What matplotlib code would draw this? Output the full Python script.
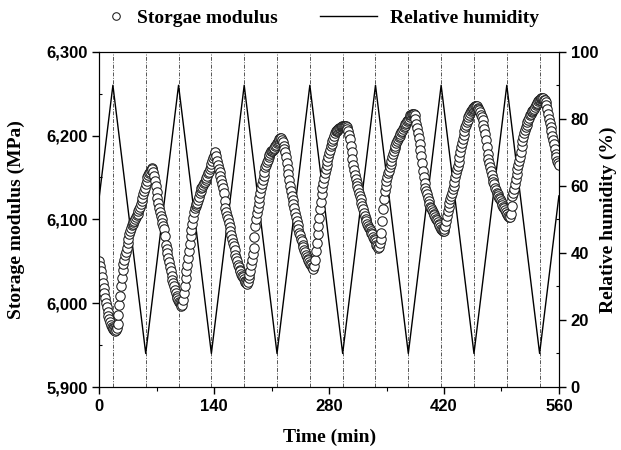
import numpy as np
import matplotlib.pyplot as plt
from matplotlib.ticker import FuncFormatter, MultipleLocator

# storage modulus (MPa), read at ~2 min steps from 0 to 560 min
modulus = [
    6050, 6038, 6024, 6012, 6000, 5990, 5981, 5974, 5970, 5968,
    5968, 5975, 5998, 6020, 6040, 6052, 6061, 6072, 6082, 6090,
    6095, 6098, 6103, 6107, 6112, 6118, 6126, 6134, 6142, 6150,
    6155, 6159, 6160, 6152, 6140, 6126, 6114, 6104, 6096, 6088,
    6070, 6060, 6049, 6038, 6028, 6020, 6012, 6006, 6002, 5999,
    5998, 6012, 6030, 6046, 6062, 6080, 6094, 6109, 6116, 6120,
    6127, 6134, 6139, 6143, 6147, 6152, 6157, 6163, 6170, 6176,
    6180, 6170, 6160, 6152, 6142, 6132, 6114, 6104, 6096, 6086,
    6076, 6068, 6058, 6050, 6043, 6038, 6033, 6029, 6025, 6023,
    6030, 6038, 6052, 6066, 6092, 6108, 6120, 6132, 6142, 6152,
    6162, 6168, 6174, 6179, 6182, 6184, 6187, 6191, 6194, 6197,
    6195, 6188, 6180, 6167, 6154, 6140, 6128, 6118, 6108, 6098,
    6088, 6081, 6074, 6067, 6061, 6055, 6051, 6047, 6043, 6041,
    6052, 6072, 6092, 6112, 6130, 6143, 6155, 6165, 6174, 6183,
    6190, 6196, 6203, 6206, 6208, 6209, 6210, 6211, 6211, 6210,
    6205, 6196, 6180, 6165, 6153, 6143, 6136, 6128, 6120, 6112,
    6104, 6098, 6092, 6088, 6084, 6079, 6075, 6070, 6066, 6072,
    6084, 6112, 6134, 6146, 6155, 6162, 6170, 6178, 6185, 6191,
    6196, 6200, 6204, 6208, 6212, 6215, 6218, 6222, 6225, 6226,
    6224, 6214, 6203, 6190, 6176, 6158, 6143, 6134, 6126, 6118,
    6113, 6109, 6105, 6101, 6097, 6093, 6089, 6086, 6088, 6098,
    6110, 6120, 6128, 6136, 6145, 6155, 6164, 6174, 6186, 6196,
    6206, 6213, 6219, 6225, 6229, 6232, 6234, 6235, 6233, 6230,
    6225, 6218, 6208, 6195, 6178, 6167, 6158, 6148, 6142, 6135,
    6130, 6126, 6122, 6117, 6113, 6109, 6106, 6103, 6106, 6128,
    6136, 6148, 6160, 6170, 6180, 6193, 6203, 6210, 6216, 6221,
    6226, 6229, 6232, 6236, 6239, 6242, 6244, 6245, 6243, 6240,
    6232, 6220, 6210, 6200, 6190, 6178, 6170, 6165,
]
# readings taken half-way between the samples above
modulus_mid = [
    6044, 6031, 6018, 6006, 5995, 5985, 5977, 5972, 5969, 5967,
    5970, 5986, 6009, 6030, 6047, 6057, 6066, 6077, 6086, 6093,
    6097, 6100, 6105, 6110, 6115, 6122, 6130, 6138, 6146, 6153,
    6157, 6161, 6157, 6146, 6133, 6120, 6109, 6100, 6092, 6080,
    6065, 6054, 6043, 6033, 6024, 6016, 6009, 6004, 6000, 5997,
    6004, 6021, 6038, 6054, 6071, 6087, 6102, 6113, 6118, 6123,
    6131, 6137, 6141, 6145, 6149, 6155, 6160, 6166, 6173, 6179,
    6176, 6165, 6156, 6147, 6137, 6122, 6109, 6100, 6091, 6081,
    6072, 6063, 6054, 6046, 6040, 6035, 6031, 6027, 6024, 6025,
    6034, 6045, 6059, 6079, 6100, 6114, 6126, 6137, 6147, 6157,
    6165, 6171, 6177, 6181, 6183, 6185, 6189, 6192, 6196, 6197,
    6192, 6184, 6174, 6160, 6147, 6134, 6123, 6113, 6103, 6093,
    6084, 6077, 6070, 6064, 6058, 6053, 6049, 6045, 6042, 6044,
    6062, 6082, 6102, 6121, 6137, 6149, 6160, 6170, 6179, 6187,
    6193, 6200, 6205, 6207, 6209, 6210, 6211, 6212, 6211, 6208,
    6201, 6188, 6172, 6159, 6148, 6140, 6132, 6124, 6116, 6108,
    6101, 6095, 6090, 6086, 6082, 6077, 6073, 6068, 6067, 6077,
    6098, 6124, 6140, 6151, 6158, 6166, 6174, 6182, 6188, 6194,
    6198, 6202, 6206, 6210, 6214, 6217, 6220, 6224, 6226, 6226,
    6220, 6209, 6197, 6183, 6167, 6150, 6138, 6130, 6122, 6115,
    6111, 6107, 6103, 6099, 6095, 6091, 6087, 6086, 6092, 6104,
    6115, 6124, 6132, 6140, 6150, 6160, 6169, 6180, 6191, 6201,
    6210, 6216, 6222, 6227, 6231, 6233, 6235, 6235, 6232, 6228,
    6222, 6213, 6202, 6186, 6172, 6162, 6153, 6145, 6138, 6132,
    6128, 6124, 6120, 6115, 6111, 6107, 6104, 6103, 6116, 6132,
    6142, 6154, 6165, 6175, 6187, 6198, 6207, 6213, 6219, 6224,
    6228, 6231, 6234, 6238, 6241, 6243, 6245, 6245, 6242, 6236,
    6226, 6215, 6205, 6195, 6184, 6174, 6167,
]
step = 560 / (len(modulus) - 1)
time_mod = np.linspace(0, 560, len(modulus))
time_mid = np.linspace(step / 2, 560 - step / 2, len(modulus_mid))

# relative humidity program (%)
rh_time = [0, 16.5, 56.5, 96.5, 136.5, 176.5, 216.5, 256.5, 296.5,
           336.5, 376.5, 416.5, 456.5, 496.5, 536.5, 560]
rh_val = [57, 90, 10, 90, 10, 90, 10, 90, 10, 90, 10, 90, 10, 90, 10, 57]

# switch times (dash-dot lines)
switch_times = rh_time[1:-1]

t_all = np.concatenate([time_mod, time_mid])
m_all = np.concatenate([modulus, modulus_mid])
order = np.argsort(t_all)
t_all, m_all = t_all[order], m_all[order]

serif = "Liberation Serif"
sans = "Liberation Sans"

fig = plt.figure(figsize=(6.21, 4.5), dpi=100)
ax = fig.add_axes([0.160, 0.140, 0.740, 0.745])
ax2 = ax.twinx()

for ts in switch_times:
    ax2.axvline(ts, color="#555555", lw=0.7, ls=(0, (4, 1.5, 1, 1.5)), zorder=1)

l2, = ax2.plot(rh_time, rh_val, color="black", lw=1.0, zorder=2,
               label="Relative humidity")
l1, = ax.plot(t_all, m_all, ls="none", marker="o", ms=6.8,
              mfc="white", mec="#1a1a1a", mew=0.75, label="Storgae modulus")

ax.set_zorder(ax2.get_zorder() + 1)
ax.patch.set_visible(False)

ax.set_xlim(0, 560)
ax.set_ylim(5900, 6300)
ax2.set_ylim(0, 100)

ax.xaxis.set_major_locator(MultipleLocator(140))
ax.xaxis.set_minor_locator(MultipleLocator(70))
ax.yaxis.set_major_locator(MultipleLocator(100))
ax.yaxis.set_minor_locator(MultipleLocator(50))
ax2.yaxis.set_major_locator(MultipleLocator(20))
ax2.yaxis.set_minor_locator(MultipleLocator(10))
ax.yaxis.set_major_formatter(FuncFormatter(lambda v, p: f"{int(v):,}"))

ax.tick_params(axis="both", which="major", direction="out", length=5, width=1)
ax.tick_params(axis="x", which="minor", direction="out", length=3, width=0.8)
ax.tick_params(axis="y", which="minor", direction="in", length=2, width=0.8)
ax2.tick_params(axis="y", which="major", direction="out", length=5, width=1)
ax2.tick_params(axis="y", which="minor", direction="in", length=2, width=0.8)

for a in (ax, ax2):
    for lab in a.get_xticklabels() + a.get_yticklabels():
        lab.set_fontfamily(sans)
        lab.set_fontweight("bold")
        lab.set_fontsize(12)

ax.set_xlabel("Time (min)", fontfamily=serif, fontweight="bold", fontsize=14, labelpad=11)
ax.set_ylabel("Storage modulus (MPa)", fontfamily=serif, fontweight="bold", fontsize=14, labelpad=15)
ax2.set_ylabel("Relative humidity (%)", fontfamily=serif, fontweight="bold", fontsize=14, labelpad=1)

legprop = {"family": serif, "weight": "bold", "size": 14}
leg1 = fig.legend(handles=[l1], loc="center left", bbox_to_anchor=(0.158, 0.96),
                  frameon=False, prop=legprop, borderpad=0, handlelength=0.8,
                  handletextpad=0.7, markerscale=0.8)
leg2 = fig.legend(handles=[l2], loc="center left", bbox_to_anchor=(0.500, 0.96),
                  frameon=False, prop=legprop, borderpad=0, handlelength=2.9,
                  handletextpad=0.7)

fig.savefig("out.png", dpi=100)
